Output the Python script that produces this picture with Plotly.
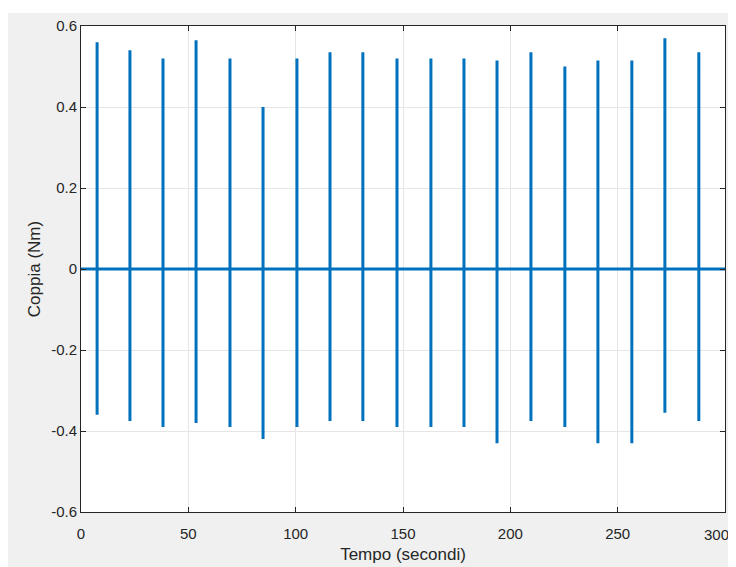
import plotly.graph_objects as go

# spike instants (s) and their peak / trough torque (Nm)
spike_t = [7.5, 22.8, 38.2, 53.6, 69.4, 84.8, 100.6, 116.0, 131.3, 147.2,
           163.0, 178.4, 193.8, 209.6, 225.4, 240.8, 256.6, 272.0, 287.8]
peak = [0.56, 0.54, 0.52, 0.565, 0.52, 0.40, 0.52, 0.535, 0.535, 0.52,
        0.52, 0.52, 0.515, 0.535, 0.50, 0.515, 0.515, 0.57, 0.535]
trough = [-0.36, -0.375, -0.39, -0.38, -0.39, -0.42, -0.39, -0.375, -0.375, -0.39,
          -0.39, -0.39, -0.43, -0.375, -0.39, -0.43, -0.43, -0.355, -0.375]
t_end = 300

x_tick = [0, 50, 100, 150, 200, 250, 300]
x_lbl = ['0', '50', '100', '150', '200', '250', '']  # last one drawn as annotation
y_tick = [-0.6, -0.4, -0.2, 0, 0.2, 0.4, 0.6]
y_lbl = ['-0.6', '-0.4', '-0.2', '0', '0.2', '0.4', '0.6']

# build the signal: flat at zero with one up/down spike per instant
xs, ys = [0], [0]
for t, p, q in zip(spike_t, peak, trough):
    xs += [t, t, t, t]
    ys += [0, p, q, 0]
xs.append(t_end)
ys.append(0)

fig = go.Figure()
fig.add_trace(go.Scatter(
    x=xs, y=ys, mode='lines',
    line=dict(color='#0072BD', width=3),
    showlegend=False
))

tick_font = dict(family='Liberation Sans, Arial', size=15, color='#262626')
axis_common = dict(
    showgrid=True, gridcolor='#e6e6e6', gridwidth=1,
    showline=True, linecolor='#262626', linewidth=1, mirror='ticks',
    ticks='inside', ticklen=5, tickcolor='#262626',
    zeroline=False, automargin=False,
    tickfont=tick_font,
)
title_font = dict(family='Liberation Sans, Arial', size=17, color='#262626')

# the page body adds an 8px offset, so the figure is sized to fit the window
fig.update_layout(
    width=728, height=559,
    margin=dict(l=73, r=11, t=18, b=55),
    paper_bgcolor='#f0f0f0',
    plot_bgcolor='white',
    xaxis=dict(range=[0, 300], tickvals=x_tick, ticktext=x_lbl, ticklabelstandoff=8, **axis_common,
               title=dict(text='Tempo (secondi)', standoff=7, font=title_font)),
    yaxis=dict(range=[-0.6, 0.6], tickvals=y_tick, ticktext=y_lbl, **axis_common,
               title=dict(text='Coppia (Nm)', standoff=6, font=title_font)),
    shapes=[
        dict(type='rect', xref='paper', yref='paper', x0=-0.2, x1=1.1,
             y0=1.0267, y1=1.1, fillcolor='white', line=dict(width=0), layer='below'),
    ],
    annotations=[
        dict(text=str(x_tick[-1]), xref='paper', yref='paper', x=1 + 5 / 644, y=0,
             xanchor='right', yanchor='top', yshift=-13, showarrow=False,
             font=tick_font, borderpad=0),
    ],
)

fig.write_html("out.html")
